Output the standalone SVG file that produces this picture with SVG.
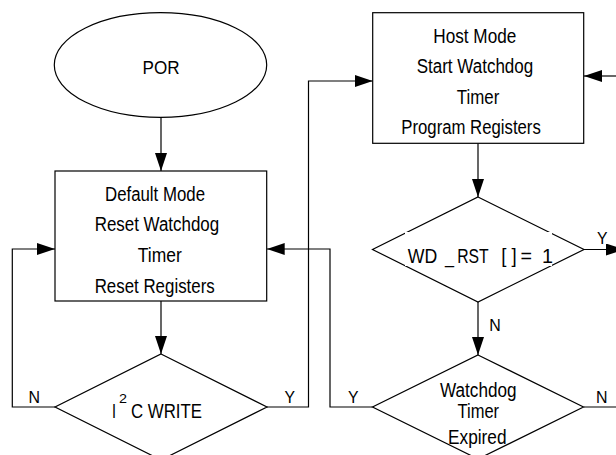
<svg xmlns="http://www.w3.org/2000/svg" width="616" height="455" viewBox="0 0 616 455">
<defs>
<marker id="arr" markerUnits="userSpaceOnUse" markerWidth="18" markerHeight="12" refX="18" refY="6" orient="auto">
<path d="M0,0 L18,6 L0,12 z" fill="#000"/>
</marker>
<style>
.shape{fill:#fff;stroke:#000;stroke-width:1.2}
.line{fill:none;stroke:#000;stroke-width:1.2}
.arrow{marker-end:url(#arr)}
text{font-family:"Liberation Sans Narrow","Liberation Sans",Arial,sans-serif;fill:#000}
.t{font-size:20px}
.lbl{font-size:17px}
</style>
</defs>
<rect width="616" height="455" fill="#fff"/>

<g id="connectors">
<path class="line arrow" d="M161,117.3 L161,171"/>
<path class="line arrow" d="M161,301 L161,354"/>
<path class="line arrow" d="M55,407 L12.3,407 L12.3,249 L55,249"/>
<path class="line arrow" d="M266.7,407 L308.5,407 L308.5,81 L372.7,81"/>
<path class="line arrow" d="M372.7,407 L330,407 L330,249 L266.7,249"/>
<path class="line arrow" d="M478,143.3 L478,197"/>
<path class="line arrow" d="M478,302 L478,355"/>
<path class="line arrow" d="M584,249.5 L624,249.5"/>
<path class="line arrow" d="M616,76 L584,76"/>
<path class="line" d="M583.5,407 L616,407"/>
</g>

<g id="por">
<ellipse class="shape" cx="160.5" cy="65" rx="106.2" ry="52.3"/>
<text x="142.5" y="74.3" style="font-size:18px" textLength="37" lengthAdjust="spacingAndGlyphs">POR</text>
</g>

<g id="default-mode">
<rect class="shape" x="55" y="171" width="211.7" height="130"/>
<text class="t" x="105" y="200.7" textLength="100" lengthAdjust="spacingAndGlyphs">Default Mode</text>
<text class="t" x="94.7" y="231" textLength="124.5" lengthAdjust="spacingAndGlyphs">Reset Watchdog</text>
<text class="t" x="137.8" y="261.7" textLength="44" lengthAdjust="spacingAndGlyphs">Timer</text>
<text class="t" x="94.7" y="292.7" textLength="120" lengthAdjust="spacingAndGlyphs">Reset Registers</text>
</g>

<g id="i2c-write">
<path class="shape" d="M161,354 L267,407 L161,460 L55,407 z"/>
<text class="t" x="112" y="418.3" textLength="4" lengthAdjust="spacingAndGlyphs">I</text>
<text x="119" y="403.3" style="font-size:12px" textLength="8" lengthAdjust="spacingAndGlyphs">2</text>
<text class="t" x="131" y="418.3" textLength="71" lengthAdjust="spacingAndGlyphs">C WRITE</text>
</g>

<g id="host-mode">
<rect class="shape" x="372.7" y="12.7" width="211" height="130.6"/>
<text class="t" x="433.3" y="42.7" textLength="83" lengthAdjust="spacingAndGlyphs">Host Mode</text>
<text class="t" x="416.7" y="73.3" textLength="116.5" lengthAdjust="spacingAndGlyphs">Start Watchdog</text>
<text class="t" x="456.8" y="104" textLength="42.5" lengthAdjust="spacingAndGlyphs">Timer</text>
<text class="t" x="401.3" y="134" textLength="139.5" lengthAdjust="spacingAndGlyphs">Program Registers</text>
</g>

<g id="wd-rst">
<path class="shape" d="M478,197 L584,249.5 L478,302 L372.5,249.5 z"/>
<rect x="405" y="232" width="147" height="34" fill="#fff"/>
<text class="t" x="407.8" y="262.7" textLength="29.5" lengthAdjust="spacingAndGlyphs">WD</text>
<text class="t" x="445" y="262.7" textLength="9" lengthAdjust="spacingAndGlyphs">_</text>
<text class="t" x="457.2" y="262.7" textLength="31.5" lengthAdjust="spacingAndGlyphs">RST</text>
<text class="t" x="501.2" y="262.7" textLength="15.5" lengthAdjust="spacingAndGlyphs">[ ]</text>
<text class="t" x="520.5" y="262.7" textLength="11.5" lengthAdjust="spacingAndGlyphs">=</text>
<text class="t" x="542" y="262.7" textLength="11" lengthAdjust="spacingAndGlyphs">1</text>
</g>

<g id="wd-expired">
<path class="shape" d="M478,355 L583.5,407 L478,459 L372.5,407 z"/>
<text class="t" x="440" y="396.7" textLength="76.5" lengthAdjust="spacingAndGlyphs">Watchdog</text>
<text class="t" x="457.6" y="418.3" textLength="41.5" lengthAdjust="spacingAndGlyphs">Timer</text>
<text class="t" x="448" y="444" textLength="58.5" lengthAdjust="spacingAndGlyphs">Expired</text>
</g>

<g id="labels">
<text class="lbl" x="28.6" y="403.3" textLength="11.5" lengthAdjust="spacingAndGlyphs">N</text>
<text class="lbl" x="284.6" y="403.3" textLength="10.5" lengthAdjust="spacingAndGlyphs">Y</text>
<text class="lbl" x="347.9" y="402.7" textLength="10.5" lengthAdjust="spacingAndGlyphs">Y</text>
<text class="lbl" x="596" y="403.3" textLength="11.5" lengthAdjust="spacingAndGlyphs">N</text>
<text class="lbl" x="489.3" y="331" textLength="11.5" lengthAdjust="spacingAndGlyphs">N</text>
<text class="lbl" x="596.9" y="244.3" textLength="10.5" lengthAdjust="spacingAndGlyphs">Y</text>
</g>
</svg>
